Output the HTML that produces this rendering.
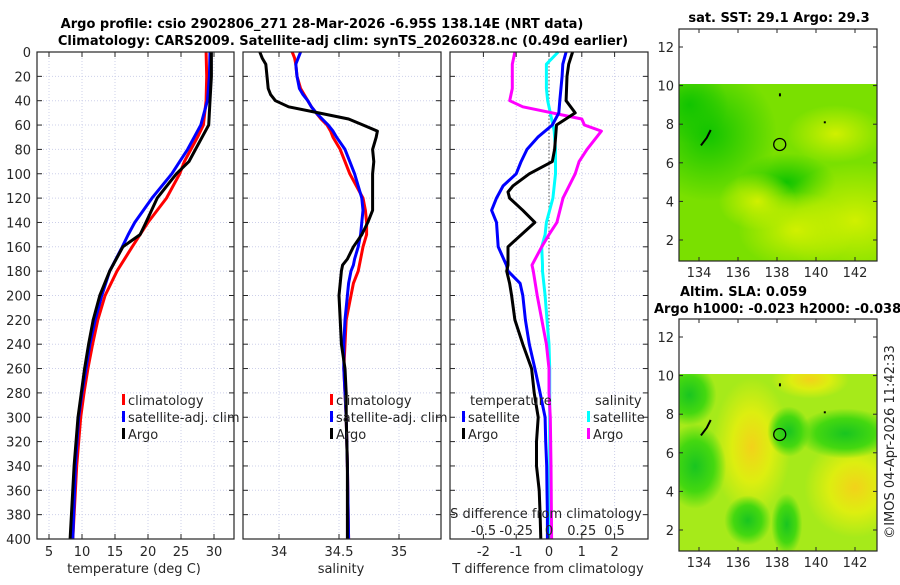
<!DOCTYPE html>
<html><head><meta charset="utf-8">
<style>
html,body{margin:0;padding:0;background:#fff;}
svg text{font-family:"DejaVu Sans","Liberation Sans",sans-serif;}
</style></head>
<body>
<svg id="fig" width="900" height="580" viewBox="0 0 900 580" xmlns="http://www.w3.org/2000/svg">
<defs>
<radialGradient id="gTopDark" cx="0.5" cy="0.5" r="0.5"><stop offset="0" stop-color="#11c400"/><stop offset="1" stop-color="#11c400" stop-opacity="0"/></radialGradient>
<radialGradient id="gTopYel" cx="0.5" cy="0.5" r="0.5"><stop offset="0" stop-color="#d0f000"/><stop offset="1" stop-color="#d0f000" stop-opacity="0"/></radialGradient>
<radialGradient id="gOr" cx="0.5" cy="0.5" r="0.5"><stop offset="0" stop-color="#f2d21a"/><stop offset="0.5" stop-color="#ddee10"/><stop offset="1" stop-color="#ddee10" stop-opacity="0"/></radialGradient>
<radialGradient id="gGr" cx="0.5" cy="0.5" r="0.5"><stop offset="0" stop-color="#19c520"/><stop offset="0.6" stop-color="#44d810"/><stop offset="1" stop-color="#44d810" stop-opacity="0"/></radialGradient>
<clipPath id="clipTop"><rect x="679" y="84" width="198" height="177"/></clipPath>
<clipPath id="clipBot"><rect x="679" y="374" width="198" height="177"/></clipPath>
</defs>
<g id="root"></g>
</svg>
<script>
// ---- data (depth in m) ----
const tDepth = [0,20,40,60,70,80,90,100,120,140,150,160,180,200,220,240,260,280,300,340,400];
const tClim  = [28.8,28.9,28.8,28.4,27.5,26.5,25.5,24.8,22.8,20.0,18.8,17.6,15.3,13.5,12.4,11.6,10.9,10.3,9.8,9.2,8.6];
const tSat   = [29.4,29.3,29.0,28.0,27.0,26.0,24.8,23.6,20.6,18.0,17.0,16.1,14.2,13.0,12.0,11.2,10.6,10.0,9.5,9.0,8.6];
const tArgo  = [29.6,29.6,29.4,29.2,28.2,27.2,26.2,24.3,21.4,19.7,18.8,16.2,14.2,12.7,11.7,11.0,10.4,9.9,9.4,8.8,8.2];

const sDepth = [0,5,10,20,30,35,40,45,50,55,60,65,70,80,90,100,120,130,140,150,160,170,175,180,190,200,220,240,260,280,300,340,400];
const sClim  = [34.11,34.13,34.14,34.15,34.18,34.21,34.24,34.27,34.31,34.35,34.40,34.43,34.45,34.51,34.55,34.59,34.70,34.72,34.73,34.73,34.70,34.68,34.67,34.66,34.62,34.60,34.56,34.55,34.54,34.55,34.56,34.57,34.58];
const sSat   = [34.18,34.16,34.14,34.15,34.17,34.20,34.24,34.27,34.31,34.36,34.41,34.45,34.48,34.55,34.59,34.63,34.69,34.70,34.69,34.68,34.66,34.63,34.62,34.60,34.58,34.57,34.55,34.54,34.54,34.55,34.56,34.57,34.58];
const sArgo  = [33.84,33.86,33.89,33.90,33.91,33.93,33.97,34.08,34.33,34.58,34.70,34.82,34.81,34.78,34.79,34.78,34.78,34.78,34.74,34.69,34.62,34.57,34.53,34.52,34.51,34.50,34.51,34.52,34.55,34.56,34.56,34.57,34.57];

const dDepthT = [0,10,20,40,50,60,70,80,90,100,110,115,120,130,140,160,175,180,190,200,220,240,260,280,300,320,340,360,380,400];
const dTArgo  = [0.72,0.6,0.55,0.52,0.8,0.23,0.2,0.17,0.1,-0.6,-1.1,-1.25,-1.2,-0.8,-0.43,-1.25,-1.25,-1.29,-1.2,-1.14,-1.04,-0.8,-0.53,-0.45,-0.33,-0.38,-0.38,-0.3,-0.27,-0.25];
const dTSat   = [0.52,0.42,0.4,0.33,0.3,0.1,-0.34,-0.67,-0.85,-1.0,-1.4,-1.5,-1.6,-1.75,-1.6,-1.55,-1.3,-1.25,-0.88,-0.8,-0.72,-0.6,-0.43,-0.27,-0.12,-0.1,-0.07,-0.06,-0.05,-0.05];
const dDepthS = [0,10,30,40,45,55,60,65,80,90,100,120,140,150,160,175,180,200,220,240,260,280,300,340,400];
const dSArgo  = [-0.26,-0.28,-0.28,-0.3,-0.2,0.25,0.27,0.4,0.29,0.23,0.2,0.107,0.06,0.0,-0.056,-0.13,-0.12,-0.09,-0.055,-0.02,0.0,0.0,0.01,0.015,0.02];
const dSSat   = [0.07,-0.02,-0.02,-0.01,0.0,0.02,0.03,0.04,0.05,0.05,0.05,0.03,-0.02,-0.03,-0.056,-0.05,-0.05,-0.03,-0.015,0.0,0.005,0.005,0.005,0.005,0.005];

const depthTicks = [0,20,40,60,80,100,120,140,160,180,200,220,240,260,280,300,320,340,360,380,400];
const tTicks = [5,10,15,20,25,30];
const sTicks = [34,34.5,35];
const dTTicks = [-2,-1,0,1,2];
const dSTicks = [-0.5,-0.25,0,0.25,0.5];
const dSTickLabels = ["-0.5","-0.25","0","0.25","0.5"];
const lonTicks = [134,136,138,140,142];
const latTicks = [2,4,6,8,10,12];

const NS="http://www.w3.org/2000/svg";
const root=document.getElementById('root');
function el(tag,attrs,parent){const e=document.createElementNS(NS,tag);for(const k in attrs)e.setAttribute(k,attrs[k]);(parent||root).appendChild(e);return e;}
function txt(s,x,y,attrs,parent){const e=el('text',Object.assign({x:x,y:y,'font-size':13,fill:'#262626'},attrs||{}),parent);e.textContent=s;return e;}

const Y0=52,Y1=539;
const yD=d=>Y0+d*(Y1-Y0)/400;
const GRID={stroke:'#cdd0ea','stroke-width':1,'stroke-dasharray':'1,2'};

function panel(name,x0,x1,xs,xticks){
  const g=el('g',{});
  
  
  el('rect',{x:x0,y:Y0,width:x1-x0,height:Y1-Y0,fill:'#fff'},g);
  depthTicks.forEach(d=>{el('line',Object.assign({x1:x0,x2:x1,y1:yD(d),y2:yD(d)},GRID),g);});
  xticks.forEach(v=>{el('line',Object.assign({x1:xs(v),x2:xs(v),y1:Y0,y2:Y1},GRID),g);});
  return g;
}
function frame(g,x0,x1,xs,xticks,xlabels,labelY){
  depthTicks.forEach(d=>{el('line',{x1:x0,x2:x0+5,y1:yD(d),y2:yD(d),stroke:'#262626'},g);el('line',{x1:x1-5,x2:x1,y1:yD(d),y2:yD(d),stroke:'#262626'},g);});
  xticks.forEach((v,i)=>{el('line',{x1:xs(v),x2:xs(v),y1:Y1,y2:Y1-5,stroke:'#262626'},g);el('line',{x1:xs(v),x2:xs(v),y1:Y0,y2:Y0+5,stroke:'#262626'},g);
    const t=txt(xlabels[i],xs(v),labelY,{'text-anchor':'middle'},g);});
  el('rect',{x:x0,y:Y0,width:x1-x0,height:Y1-Y0,fill:'none',stroke:'#262626','stroke-width':1.2},g);
}
function line(g,xs,xv,dv,color,name,w){
  const p=dv.map((d,i)=>xs(xv[i]).toFixed(1)+','+yD(d).toFixed(1)).join(' ');
  const e=el('polyline',{points:p,fill:'none',stroke:color,'stroke-width':w||3,'stroke-linejoin':'round'},g);
  
  
}
function legendEntry(g,x,y,color,label){
  el('rect',{x:x,y:y-11,width:3,height:11,fill:color},g);
  const t=txt(label,x+6,y,{},g);
  
  
}

// ---- titles ----
let t1=txt('Argo profile: csio 2902806_271 28-Mar-2026 -6.95S 138.14E (NRT data)',322,28,{'font-weight':'bold','text-anchor':'middle',fill:'#000'});


let t2=txt('Climatology: CARS2009. Satellite-adj clim: synTS_20260328.nc (0.49d earlier)',343,45,{'font-weight':'bold','text-anchor':'middle',fill:'#000'});



// ---- panel 1 temperature ----
const xT=v=>49+(v-5)*6.6;
const p1=panel('temperature-panel',37,234,xT,tTicks);
line(p1,xT,tClim,tDepth,'#ff0000','climatology-temp-line');
line(p1,xT,tSat,tDepth,'#0000ff','satellite-temp-line');
line(p1,xT,tArgo,tDepth,'#000000','argo-temp-line');
frame(p1,37,234,xT,tTicks,tTicks.map(String),556);
depthTicks.forEach(d=>{const t=txt(String(d),31,yD(d)+5,{'text-anchor':'end'},p1);});
let xl1=txt('temperature (deg C)',134,573,{'text-anchor':'middle'},p1);


legendEntry(p1,122,405,'#ff0000','climatology');
legendEntry(p1,122,422,'#0000ff','satellite-adj. clim');
legendEntry(p1,122,439,'#000000','Argo');

// ---- panel 2 salinity ----
const xS=v=>279+(v-34)*120;
const p2=panel('salinity-panel',243,441,xS,sTicks);
line(p2,xS,sClim,sDepth,'#ff0000','climatology-salinity-line');
line(p2,xS,sSat,sDepth,'#0000ff','satellite-salinity-line');
line(p2,xS,sArgo,sDepth,'#000000','argo-salinity-line');
frame(p2,243,441,xS,sTicks,['34','34.5','35'],556);
let xl2=txt('salinity',341,573,{'text-anchor':'middle'},p2);


legendEntry(p2,330,405,'#ff0000','climatology');
legendEntry(p2,330,422,'#0000ff','satellite-adj. clim');
legendEntry(p2,330,439,'#000000','Argo');

// ---- panel 3 differences ----
const xDT=v=>549+v*32.8;
const xDS=v=>549+v*131;
const p3=panel('difference-panel',450,648,xDT,dTTicks);
el('line',{x1:549,x2:549,y1:Y0,y2:Y1,stroke:'#555','stroke-width':1,'stroke-dasharray':'1.5,2'},p3);
line(p3,xDS,dSSat,dDepthS,'#00ffff','satellite-salinity-diff-line');
line(p3,xDS,dSArgo,dDepthS,'#ff00ff','argo-salinity-diff-line');
line(p3,xDT,dTSat,dDepthT,'#0000ff','satellite-temp-diff-line');
line(p3,xDT,dTArgo,dDepthT,'#000000','argo-temp-diff-line');
frame(p3,450,648,xDT,dTTicks,dTTicks.map(String),556);
let xl3=txt('T difference from climatology',548,573,{'text-anchor':'middle'},p3);


let sl=txt('S difference from climatology',546,518,{'text-anchor':'middle'},p3);


dSTicks.forEach((v,i)=>{const t=txt(dSTickLabels[i],xDS(v),535,{'text-anchor':'middle'},p3);});
let lt=txt('temperature',470,405,{},p3);
legendEntry(p3,462,422,'#0000ff','satellite');
legendEntry(p3,462,439,'#000000','Argo');
let ls=txt('salinity',595,405,{},p3);
legendEntry(p3,587,422,'#00ffff','satellite');
legendEntry(p3,587,439,'#ff00ff','Argo');

// ---- maps ----
const mx=lon=>699+(lon-134)*19.5;
function makeMap(name,top,clip,blobs,base){
  const g=el('g',{});
  
  
  const my=lat=>top+18+(12-lat)*19.3;
  el('rect',{x:679,y:top,width:198,height:232,fill:'#fff'},g);
  const cg=el('g',{'clip-path':'url(#'+clip+')'},g);
  el('rect',{x:679,y:my(10.1),width:198,height:my(1)-my(10.1)+2,fill:base},cg);
  blobs.forEach(b=>{el('ellipse',{cx:mx(b[0]),cy:my(b[1]),rx:b[2]*19.5,ry:b[3]*19.3,fill:'url(#'+b[4]+')'},cg);});
  el('polyline',{points:[mx(134.1),my(6.9),mx(134.4),my(7.3),mx(134.6),my(7.7)].join(' '),stroke:'#000','stroke-width':2,fill:'none'},g);
  el('rect',{x:mx(138.1),y:my(9.6),width:2,height:3,fill:'#000'},g);
  el('rect',{x:mx(140.4),y:my(8.15),width:2,height:2,fill:'#000'},g);
  const c=el('circle',{cx:mx(138.14),cy:my(6.95),r:6,fill:'none',stroke:'#000','stroke-width':1.3},g);
  
  
  el('rect',{x:679,y:top,width:198,height:232,fill:'none',stroke:'#262626','stroke-width':1.2},g);
  latTicks.forEach(l=>{el('line',{x1:679,x2:683,y1:my(l),y2:my(l),stroke:'#262626'},g);el('line',{x1:873,x2:877,y1:my(l),y2:my(l),stroke:'#262626'},g);
    const t=txt(String(l),674,my(l)+5,{'text-anchor':'end'},g);});
  lonTicks.forEach(l=>{el('line',{x1:mx(l),x2:mx(l),y1:top+232,y2:top+228,stroke:'#262626'},g);el('line',{x1:mx(l),x2:mx(l),y1:top,y2:top+4,stroke:'#262626'},g);
    const t=txt(String(l),mx(l),top+248,{'text-anchor':'middle'},g);});
  return g;
}
makeMap('sst-map',29,'clipTop',[
  [134.5,7.5,3.5,3.5,'gTopDark'],[133.5,9,2,2,'gTopDark'],[138.5,5,2.5,1.5,'gTopDark'],
  [142,3,4,3,'gTopYel'],[139,2.5,3,2,'gTopYel'],[137,4,2,1.5,'gTopYel'],[141,7.5,2.5,1.5,'gTopYel']
],'#7ae000');
makeMap('sla-map',319,'clipBot',[
  [136.7,6.3,2,3.6,'gOr'],[142,4.2,2.6,2.6,'gOr'],[139.7,9.8,2,1,'gOr'],
  [133.8,5.3,1.6,2.2,'gGr'],[133.5,9,1.4,1.6,'gGr'],[141.5,7,2.5,1.3,'gGr'],[138.6,7.1,1.1,1.3,'gGr'],
  [136.5,2.5,1.2,1.3,'gGr'],[138.5,2.3,0.8,1.6,'gGr']
],'#a6ea1a');
let mt1=txt('sat. SST: 29.1 Argo: 29.3',779,22,{'font-weight':'bold','text-anchor':'middle',fill:'#000'});

let mt2=txt('Altim. SLA: 0.059',680,296,{'font-weight':'bold',fill:'#000'});

let mt3=txt('Argo h1000: -0.023 h2000: -0.038',654,313,{'font-weight':'bold',fill:'#000'});

let cp=txt('©IMOS 04-Apr-2026 11:42:33',0,0,{transform:'translate(894,442) rotate(-90)','text-anchor':'middle'});

</script>
</body></html>
